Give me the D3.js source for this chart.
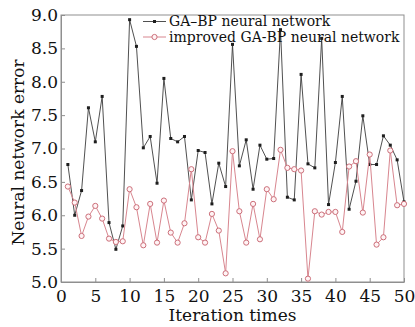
<!DOCTYPE html>
<html>
<head>
<meta charset="utf-8">
<script src="https://cdn.jsdelivr.net/npm/d3@7"></script>
<style>
  html, body { margin: 0; padding: 0; background: #fff; }
  svg { display: block; }
  text { font-family: "DejaVu Serif", serif; fill: #111; }
</style>
</head>
<body>
<svg id="chart" width="415" height="327"></svg>
<script>
const iterations = d3.range(1, 51);
const gaBP = [6.76, 6.00, 6.37, 7.61, 7.10, 7.78, 5.89, 5.49, 5.84, 8.93,
              8.53, 7.01, 7.18, 6.48, 8.05, 7.15, 7.10, 7.18, 6.23, 6.97,
              6.94, 6.17, 6.78, 6.43, 8.56, 6.74, 7.13, 6.39, 7.05, 6.84,
              6.85, 8.78, 6.27, 6.23, 8.11, 6.77, 6.71, 8.65, 6.16, 6.79,
              7.78, 6.09, 6.51, 7.49, 6.76, 6.76, 7.19, 7.05, 6.83, 6.20];
const improvedGaBP = [6.43, 6.19, 5.69, 5.98, 6.14, 5.95, 5.65, 5.60, 5.61, 6.39,
              6.12, 5.55, 6.17, 5.59, 6.22, 5.74, 5.59, 5.88, 6.69, 5.67,
              5.59, 6.02, 5.77, 5.13, 6.96, 6.06, 5.59, 6.17, 5.64, 6.39,
              6.24, 6.98, 6.71, 6.69, 6.67, 5.05, 6.06, 6.01, 6.05, 6.05,
              5.75, 6.73, 6.81, 6.04, 6.91, 5.56, 5.67, 6.97, 6.15, 6.17];
const xTicks = [0, 5, 10, 15, 20, 25, 30, 35, 40, 45, 50];
const yTicks = [5.0, 5.5, 6.0, 6.5, 7.0, 7.5, 8.0, 8.5, 9.0];
const seriesNames = ["GA\u2013BP neural network", "improved GA-BP neural network"];
const xTitle = "Iteration times";
const yTitle = "Neural network error";

const W = 415, H = 327;
const m = { left: 61, right: 11, top: 15, bottom: 45 };
const svg = d3.select("#chart");
const x = d3.scaleLinear().domain([0, 50]).range([m.left, W - m.right]);
const y = d3.scaleLinear().domain([5, 9]).range([H - m.bottom, m.top]);
const frameColor = "#8f8f8f";

// frame
svg.append("rect")
  .attr("x", m.left).attr("y", m.top)
  .attr("width", W - m.left - m.right).attr("height", H - m.top - m.bottom)
  .attr("fill", "none").attr("stroke", frameColor).attr("stroke-width", 1);

// x axis
const gx = svg.append("g").attr("transform", `translate(0,${H - m.bottom})`)
  .call(d3.axisBottom(x).tickValues(xTicks).tickFormat(d3.format("d"))
        .tickSizeInner(-4).tickSizeOuter(0).tickPadding(8));
gx.select(".domain").attr("stroke", frameColor);
gx.selectAll(".tick line").attr("stroke", frameColor);
gx.selectAll("text").style("font-size", "17px").attr("fill", "#111");

// y axis
const gy = svg.append("g").attr("transform", `translate(${m.left},0)`)
  .call(d3.axisLeft(y).tickValues(yTicks).tickFormat(d3.format(".1f"))
        .tickSizeInner(-4).tickSizeOuter(0).tickPadding(3));
gy.select(".domain").attr("stroke", frameColor);
gy.selectAll(".tick line").attr("stroke", frameColor);
gy.selectAll("text").style("font-size", "17px").attr("fill", "#111");

// titles
svg.append("text").attr("x", (m.left + W - m.right) / 2).attr("y", 321)
  .attr("text-anchor", "middle").style("font-size", "17px").text(xTitle);
svg.append("text")
  .attr("transform", `translate(24,${(m.top + H - m.bottom) / 2 + 4}) rotate(-90)`)
  .attr("text-anchor", "middle").style("font-size", "17px").text(yTitle);

const line = d3.line().x((d, i) => x(iterations[i])).y(d => y(d));

const blackLine = "#3c3c3c", blackMark = "#1e1e1e";
const redLine = "#d8868f", redMark = "#cc6f7a";

// GA-BP series
svg.append("path").datum(gaBP).attr("d", line)
  .attr("fill", "none").attr("stroke", blackLine).attr("stroke-width", 0.9);
svg.append("g").selectAll("rect").data(gaBP).join("rect")
  .attr("x", (d, i) => x(iterations[i]) - 1.5).attr("y", d => y(d) - 1.5)
  .attr("width", 3).attr("height", 3).attr("fill", blackMark);

// improved series
svg.append("path").datum(improvedGaBP).attr("d", line)
  .attr("fill", "none").attr("stroke", redLine).attr("stroke-width", 1);
svg.append("g").selectAll("circle").data(improvedGaBP).join("circle")
  .attr("cx", (d, i) => x(iterations[i])).attr("cy", d => y(d)).attr("r", 2.6)
  .attr("fill", "#fff4f5").attr("stroke", redMark).attr("stroke-width", 1);

// legend
const lg = svg.append("g");
const legendY = [21.5, 37];
lg.append("line").attr("x1", 143).attr("x2", 166).attr("y1", legendY[0]).attr("y2", legendY[0])
  .attr("stroke", blackLine).attr("stroke-width", 0.9);
lg.append("rect").attr("x", 153).attr("y", legendY[0] - 1.5).attr("width", 3).attr("height", 3).attr("fill", blackMark);
lg.append("line").attr("x1", 143).attr("x2", 166).attr("y1", legendY[1]).attr("y2", legendY[1])
  .attr("stroke", redLine).attr("stroke-width", 1);
lg.append("circle").attr("cx", 154.5).attr("cy", legendY[1]).attr("r", 2.6)
  .attr("fill", "#fff4f5").attr("stroke", redMark).attr("stroke-width", 1);
seriesNames.forEach((n, i) => {
  lg.append("text").attr("x", 169).attr("y", legendY[i]).attr("dy", "0.35em")
    .style("font-size", "14px").text(n);
});
</script>
</body>
</html>
